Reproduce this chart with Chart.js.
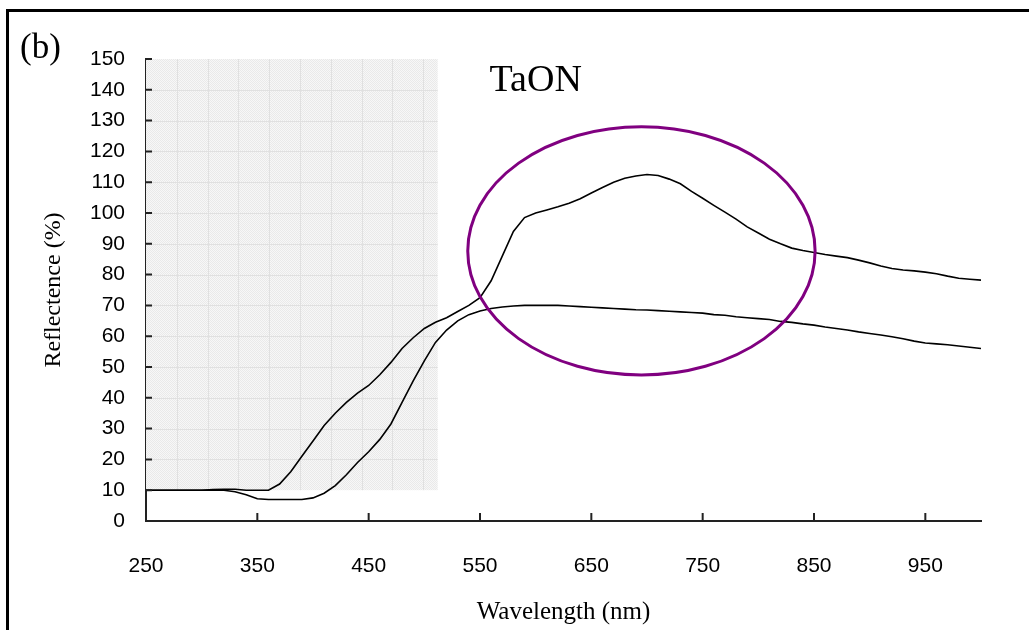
<!DOCTYPE html>
<html>
<head>
<meta charset="utf-8">
<script src="https://cdn.jsdelivr.net/npm/chart.js@4.4.0/dist/chart.umd.min.js"></script>
<style>
  body { margin: 0; background: #fff; }
  #wrap { position: relative; width: 1029px; height: 630px; overflow: hidden; }
  #frame { position: absolute; left: 6px; top: 9px; width: 1100px; height: 700px;
           border-top: 3px solid #000; border-left: 3px solid #000; pointer-events: none; }
</style>
</head>
<body>
<div id="wrap">
  <canvas id="reflect-chart"></canvas>
  <div id="frame"></div>
</div>
<script>
// wavelength grid (nm)
const wavelength = [250,260,270,280,290,300,310,320,330,340,350,360,370,380,390,400,410,420,430,440,
  450,460,470,480,490,500,510,520,530,540,550,560,570,580,590,600,610,620,630,640,
  650,660,670,680,690,700,710,720,730,740,750,760,770,780,790,800,810,820,830,840,
  850,860,870,880,890,900,910,920,930,940,950,960,970,980,990,1000];

// upper curve (peak near 700 nm)
const reflectUpper = [10,10,10,10,10,10,10.2,10.3,10.3,10,10,10,12,16,21,26,31,35,38.5,41.5,
  44,47.5,51.5,56,59.5,62.5,64.5,66,68,70,72.5,78,86,94,98.5,100,101,102,103.2,104.6,
  106.5,108.3,110,111.3,112,112.5,112.2,111,109.5,107,104.8,102.5,100.3,98,95.5,93.5,91.5,90,88.6,87.8,
  87.2,86.5,86,85.5,84.7,83.8,82.8,82,81.5,81.2,80.8,80.3,79.5,78.8,78.5,78.2];

// lower curve (flat top near 70 %)
const reflectLower = [10,10,10,10,10,10,10,10,9.5,8.5,7.2,7,7,7,7,7.5,9,11.5,15,19,
  22.5,26.5,31.5,38.5,45.5,52,58,62,65,67,68.2,69,69.5,69.8,70,70,70,70,69.8,69.6,
  69.4,69.2,69,68.8,68.6,68.5,68.3,68.1,67.9,67.7,67.5,67,66.8,66.3,66,65.7,65.4,64.8,64.5,64,
  63.6,63,62.5,62,61.4,60.9,60.4,59.8,59.2,58.4,57.8,57.5,57.2,56.8,56.4,56];

const xTicks = [250,350,450,550,650,750,850,950];

// shaded band and highlight ellipse, in data units
const shadeBand = { x0: 250, x1: 512, y0: 10, y1: 150 };
const ring = { cx: 695, cy: 87.7, rx: 156, ry: 40.3 };

const tickFont = { family: "'Liberation Sans', sans-serif", size: 21 };

function toPoints(ys) {
  return wavelength.map((w, i) => ({ x: w, y: ys[i] }));
}

function makePattern(ctx) {
  const c = document.createElement('canvas');
  c.width = 2; c.height = 2;
  const p = c.getContext('2d');
  p.fillStyle = '#f7f7f7';
  p.fillRect(0, 0, 2, 2);
  p.fillStyle = '#e9e9e9';
  p.fillRect(0, 0, 1, 1);
  p.fillRect(1, 1, 1, 1);
  return ctx.createPattern(c, 'repeat');
}

const extras = {
  id: 'extras',
  beforeDatasetsDraw(chart) {
    const { ctx, scales: { x, y } } = chart;
    const l = x.getPixelForValue(shadeBand.x0), r = x.getPixelForValue(shadeBand.x1);
    const t = y.getPixelForValue(shadeBand.y1), b = y.getPixelForValue(shadeBand.y0);
    ctx.save();
    ctx.fillStyle = makePattern(ctx);
    ctx.fillRect(l, t, r - l, b - t);
    const step = y.getPixelForValue(0) - y.getPixelForValue(10);
    ctx.strokeStyle = '#e0e0e0';
    ctx.lineWidth = 1;
    ctx.beginPath();
    for (let v = 20; v < 150; v += 10) {
      const py = Math.round(y.getPixelForValue(v)) + 0.5;
      ctx.moveTo(l, py); ctx.lineTo(r, py);
    }
    for (let px = l + step; px < r; px += step) {
      const qx = Math.round(px) + 0.5;
      ctx.moveTo(qx, t); ctx.lineTo(qx, b);
    }
    ctx.stroke();
    ctx.restore();
  },
  afterDatasetsDraw(chart) {
    const { ctx, chartArea, scales: { x, y } } = chart;
    ctx.save();
    // ellipse
    const cx = x.getPixelForValue(ring.cx), cy = y.getPixelForValue(ring.cy);
    const rx = x.getPixelForValue(ring.cx + ring.rx) - cx;
    const ry = cy - y.getPixelForValue(ring.cy + ring.ry);
    ctx.strokeStyle = '#800080';
    ctx.lineWidth = 3;
    ctx.beginPath();
    ctx.ellipse(cx, cy, rx, ry, 0, 0, Math.PI * 2);
    ctx.stroke();
    // inward tick marks
    ctx.strokeStyle = '#222';
    ctx.lineWidth = 2;
    ctx.beginPath();
    for (let v = 0; v <= 150; v += 10) {
      const py = y.getPixelForValue(v);
      ctx.moveTo(chartArea.left, py); ctx.lineTo(chartArea.left + 6, py);
    }
    xTicks.forEach(v => {
      const px = x.getPixelForValue(v);
      ctx.moveTo(px, chartArea.bottom); ctx.lineTo(px, chartArea.bottom - 8);
    });
    ctx.stroke();
    ctx.restore();
  },
  afterDraw(chart) {
    const { ctx, chartArea, scales: { x, y } } = chart;
    ctx.save();
    ctx.fillStyle = '#000';
    ctx.textAlign = 'center';
    ctx.textBaseline = 'alphabetic';
    ctx.font = "25px 'Liberation Serif', serif";
    ctx.fillText('Wavelength (nm)', (chartArea.left + chartArea.right) / 2, 619);
    ctx.save();
    ctx.translate(60, (chartArea.top + chartArea.bottom) / 2);
    ctx.rotate(-Math.PI / 2);
    ctx.font = "24px 'Liberation Serif', serif";
    ctx.fillText('Reflectence (%)', 0, 0);
    ctx.restore();
    ctx.font = "38px 'Liberation Serif', serif";
    ctx.fillText('TaON', x.getPixelForValue(600), y.getPixelForValue(140) + 1);
    ctx.textAlign = 'left';
    ctx.font = "35px 'Liberation Serif', serif";
    ctx.fillText('(b)', 20, 58);
    ctx.restore();
  }
};

new Chart("reflect-chart", {
  type: "line",
  data: {
    datasets: [
      { label: "upper", data: toPoints(reflectUpper), borderColor: "#000", borderWidth: 1.6, pointRadius: 0, tension: 0 },
      { label: "lower", data: toPoints(reflectLower), borderColor: "#000", borderWidth: 1.6, pointRadius: 0, tension: 0 }
    ]
  },
  options: {
    responsive: true,
    maintainAspectRatio: false,
    animation: false,
    layout: { padding: { left: 0, top: 59, right: 48, bottom: 0 } },
    plugins: { legend: { display: false }, tooltip: { enabled: false } },
    scales: {
      x: {
        type: "linear",
        min: 250,
        max: 1000,
        afterBuildTicks: (s) => { s.ticks = xTicks.map(v => ({ value: v })); },
        afterFit: (s) => { s.height = 109; },
        grid: { display: false, drawTicks: false },
        border: { display: true, color: "#222", width: 2 },
        ticks: { color: "#000", font: tickFont, padding: 33, maxRotation: 0, autoSkip: false }
      },
      y: {
        min: 0,
        max: 150,
        afterFit: (s) => { s.width = 146; },
        grid: { display: false, drawTicks: false },
        border: { display: true, color: "#222", width: 2 },
        ticks: { color: "#000", font: tickFont, padding: 21, stepSize: 10, autoSkip: false }
      }
    }
  },
  plugins: [extras]
});
</script>
</body>
</html>
